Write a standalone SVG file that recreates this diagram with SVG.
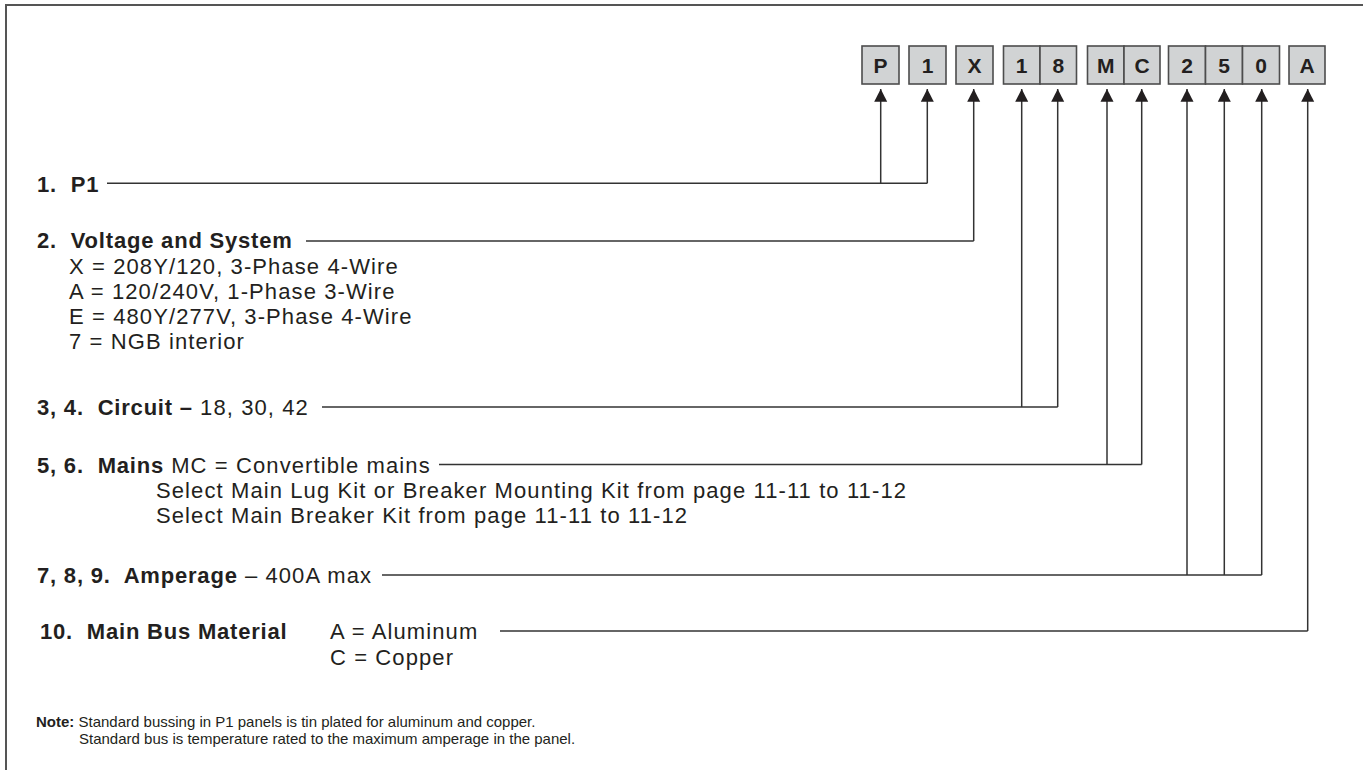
<svg xmlns="http://www.w3.org/2000/svg" width="1363" height="770" viewBox="0 0 1363 770">
<defs>
<marker id="ah" markerWidth="13" markerHeight="13" refX="6.5" refY="0" orient="0" markerUnits="userSpaceOnUse" viewBox="0 0 13 13" overflow="visible">
<path d="M0,12.7 L6.5,0 L13,12.7 Z" fill="#231f20"/>
</marker>
</defs>
<style>
.frame{fill:none;stroke:#555;stroke-width:2}
.box{fill:#d1d3d4;stroke:#4d4d4d;stroke-width:1.6}
.bt{font-family:"Liberation Sans",Arial,sans-serif;font-weight:bold;font-size:21px;fill:#231f20;text-anchor:middle}
.t{font-family:"Liberation Sans",Arial,sans-serif;font-size:22px;letter-spacing:1.1px;fill:#231f20}
.b{font-weight:bold;letter-spacing:0.8px}
.n{font-family:"Liberation Sans",Arial,sans-serif;font-size:15px;fill:#231f20}
.nb{font-weight:bold}
.c{fill:none;stroke:#333;stroke-width:1.5}
.ar{fill:none;stroke:#333;stroke-width:1.5}
</style>
<rect width="1363" height="770" fill="#fff"/>
<path class="frame" d="M6 770 V5 H1363"/>

<g id="code-boxes">
<g id="box-P"><rect class="box" x="862" y="46" width="37" height="38"/><text class="bt" x="880.5" y="73">P</text></g>
<g id="box-1"><rect class="box" x="909" y="46" width="37" height="38"/><text class="bt" x="927.5" y="73">1</text></g>
<g id="box-X"><rect class="box" x="956" y="46" width="37" height="38"/><text class="bt" x="974.5" y="73">X</text></g>
<g id="box-18"><rect class="box" x="1003.5" y="46" width="36.5" height="38"/><rect class="box" x="1040" y="46" width="36.5" height="38"/><text class="bt" x="1021.7" y="73">1</text><text class="bt" x="1058.3" y="73">8</text></g>
<g id="box-MC"><rect class="box" x="1087.5" y="46" width="36.5" height="38"/><rect class="box" x="1124" y="46" width="36" height="38"/><text class="bt" x="1105.7" y="73">M</text><text class="bt" x="1142" y="73">C</text></g>
<g id="box-250"><rect class="box" x="1168.5" y="46" width="37" height="38"/><rect class="box" x="1205.5" y="46" width="37" height="38"/><rect class="box" x="1242.5" y="46" width="37" height="38"/><text class="bt" x="1187" y="73">2</text><text class="bt" x="1224" y="73">5</text><text class="bt" x="1261" y="73">0</text></g>
<g id="box-A"><rect class="box" x="1289" y="46" width="36" height="38"/><text class="bt" x="1307" y="73">A</text></g>
</g>

<g id="connectors">
<path class="c" d="M107 183.3 H927.3"/>
<path class="ar" d="M880.7 183.3 V89" marker-end="url(#ah)"/>
<path class="ar" d="M927.3 183.3 V89" marker-end="url(#ah)"/>
<path class="c" d="M306 241 H973.7"/>
<path class="ar" d="M973.7 241 V89" marker-end="url(#ah)"/>
<path class="c" d="M322 407 H1057.7"/>
<path class="ar" d="M1021.7 407 V89" marker-end="url(#ah)"/>
<path class="ar" d="M1057.7 407 V89" marker-end="url(#ah)"/>
<path class="c" d="M439 464.5 H1141.7"/>
<path class="ar" d="M1107 464.5 V89" marker-end="url(#ah)"/>
<path class="ar" d="M1141.7 464.5 V89" marker-end="url(#ah)"/>
<path class="c" d="M382 575 H1261.7"/>
<path class="ar" d="M1187 575 V89" marker-end="url(#ah)"/>
<path class="ar" d="M1224.3 575 V89" marker-end="url(#ah)"/>
<path class="ar" d="M1261.7 575 V89" marker-end="url(#ah)"/>
<path class="c" d="M500 631 H1307.7"/>
<path class="ar" d="M1307.7 631 V89" marker-end="url(#ah)"/>
</g>

<g id="item-1"><text class="t b" x="37" y="191.5" xml:space="preserve">1.  P1</text></g>
<g id="item-2">
<text class="t b" x="37" y="248" xml:space="preserve">2.  Voltage and System</text>
<text class="t" x="69" y="273.5">X = 208Y/120, 3-Phase 4-Wire</text>
<text class="t" x="69" y="298.5">A = 120/240V, 1-Phase 3-Wire</text>
<text class="t" x="69" y="323.5">E = 480Y/277V, 3-Phase 4-Wire</text>
<text class="t" x="69" y="348.5">7 = NGB interior</text>
</g>
<g id="item-3-4"><text class="t" x="37" y="415" xml:space="preserve"><tspan class="b">3, 4.  Circuit –</tspan> 18, 30, 42</text></g>
<g id="item-5-6">
<text class="t" x="37" y="472.5" xml:space="preserve"><tspan class="b">5, 6.  Mains</tspan> MC = Convertible mains</text>
<text class="t" x="156" y="498">Select Main Lug Kit or Breaker Mounting Kit from page 11-11 to 11-12</text>
<text class="t" x="156" y="523">Select Main Breaker Kit from page 11-11 to 11-12</text>
</g>
<g id="item-7-9"><text class="t" x="37" y="583" xml:space="preserve"><tspan class="b">7, 8, 9.  Amperage</tspan> – 400A max</text></g>
<g id="item-10">
<text class="t b" x="40" y="639" xml:space="preserve">10.  Main Bus Material</text>
<text class="t" x="330" y="639">A = Aluminum</text>
<text class="t" x="330" y="665">C = Copper</text>
</g>
<g id="note">
<text class="n" x="36" y="727"><tspan class="nb">Note:</tspan> Standard bussing in P1 panels is tin plated for aluminum and copper.</text>
<text class="n" x="79" y="744">Standard bus is temperature rated to the maximum amperage in the panel.</text>
</g>
</svg>
